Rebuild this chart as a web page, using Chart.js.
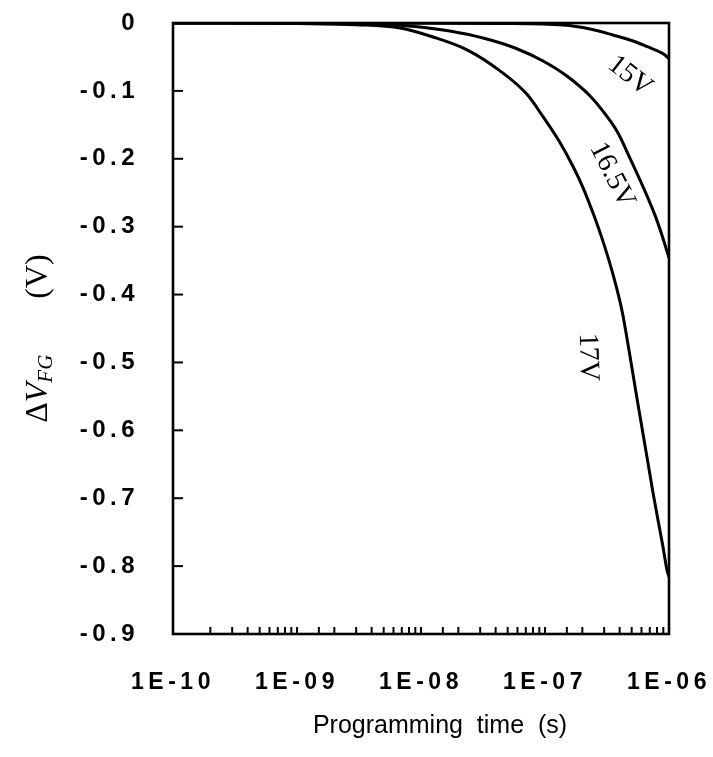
<!DOCTYPE html>
<html>
<head>
<meta charset="utf-8">
<script src="https://cdn.jsdelivr.net/npm/chart.js@4"></script>
<style>
html,body{margin:0;padding:0;background:#fff;}
#c{display:block;}
</style>
</head>
<body>
<canvas id="c" width="713" height="757"></canvas>
<script>
// ---- data ----
const xTickValues = [1e-10, 1e-9, 1e-8, 1e-7, 1e-6];
const xTickLabels = ['1E-10', '1E-09', '1E-08', '1E-07', '1E-06'];
const yTickValues = [0, -0.1, -0.2, -0.3, -0.4, -0.5, -0.6, -0.7, -0.8, -0.9];
const yTickLabels = ['0', '-0.1', '-0.2', '-0.3', '-0.4', '-0.5', '-0.6', '-0.7', '-0.8', '-0.9'];

const seriesNames = ['15V', '16.5V', '17V'];

const time15 = [1e-10, 1e-8, 4.34e-8, 1.40e-7, 2.31e-7, 3.53e-7, 5.13e-7, 6.77e-7, 8.45e-7, 9.29e-7, 1e-6];
const dv15   = [0, -0.0002, -0.0007, -0.003, -0.0088, -0.0177, -0.0265, -0.0353, -0.0427, -0.0471, -0.053];

const time165 = [1e-10, 1e-9, 3e-9, 4.67e-9, 9.82e-9, 1.71e-8, 3.16e-8, 5.73e-8, 9.64e-8, 1.50e-7, 2.31e-7, 3.05e-7, 3.88e-7, 4.84e-7, 5.83e-7, 6.77e-7, 7.71e-7, 8.61e-7, 9.29e-7, 1e-6];
const dv165   = [0, -0.0003, -0.0009, -0.0015, -0.0059, -0.0118, -0.0221, -0.0368, -0.056, -0.0781, -0.1075, -0.134, -0.162, -0.199, -0.231, -0.258, -0.283, -0.308, -0.327, -0.346];

const time17 = [1e-10, 1e-9, 3e-9, 6.78e-9, 1.25e-8, 2.35e-8, 4.34e-8, 7.16e-8, 9.64e-8, 1.32e-7, 1.68e-7, 2.02e-7, 2.44e-7, 2.94e-7, 3.53e-7, 4.18e-7, 4.84e-7, 5.52e-7, 6.17e-7, 6.77e-7, 7.43e-7, 8.15e-7, 8.95e-7, 9.64e-7, 1e-6];
const dv17   = [0, -0.0008, -0.0025, -0.0074, -0.0206, -0.0395, -0.0705, -0.105, -0.138, -0.176, -0.211, -0.242, -0.28, -0.322, -0.37, -0.424, -0.49, -0.553, -0.605, -0.648, -0.692, -0.732, -0.772, -0.806, -0.816];

// label anchors in data space (time, dV) and their rotation
const labelTimes = [4.84e-7, 3.47e-7, 2.22e-7];
const labelValues = [-0.078, -0.224, -0.492];
const labelAngles = [38, 63, 88];

// ---- chart ----
function pts(ts, vs) { return ts.map((t, i) => ({ x: t, y: vs[i] })); }

const sansFont = "'Liberation Sans', Arial, Helvetica, sans-serif";
const serifFont = "'Liberation Serif', 'Times New Roman', serif";

function noPad(s) { s.paddingTop = 0; s.paddingBottom = 0; s.paddingLeft = 0; s.paddingRight = 0; }

const decor = {
  id: 'decor',
  beforeDraw(chart) {
    chart.ctx.letterSpacing = '4.5px';
  },
  afterDraw(chart) {
    const { ctx, chartArea: a, scales: { x, y } } = chart;
    ctx.save();
    ctx.letterSpacing = '0px';
    ctx.strokeStyle = '#000';
    ctx.fillStyle = '#000';
    // frame
    ctx.lineWidth = 2.6;
    ctx.strokeRect(a.left, a.top, a.right - a.left, a.bottom - a.top);
    // x ticks (log minor), pointing inward
    ctx.lineWidth = 2;
    x.ticks.forEach(t => {
      const px = x.getPixelForValue(t.value);
      if (px <= a.left + 1 || px >= a.right - 1) return;
      ctx.beginPath();
      ctx.moveTo(px, a.bottom);
      ctx.lineTo(px, a.bottom - 7);
      ctx.stroke();
    });
    // y ticks pointing inward
    y.ticks.forEach(t => {
      const py = y.getPixelForValue(t.value);
      if (py <= a.top + 1 || py >= a.bottom - 1) return;
      ctx.beginPath();
      ctx.moveTo(a.left, py);
      ctx.lineTo(a.left + 10, py);
      ctx.stroke();
    });
    // curve labels
    ctx.font = '28px ' + serifFont;
    ctx.textAlign = 'center';
    ctx.textBaseline = 'middle';
    seriesNames.forEach((n, i) => {
      const px = x.getPixelForValue(labelTimes[i]);
      const py = y.getPixelForValue(labelValues[i]);
      ctx.save();
      ctx.translate(px, py);
      ctx.rotate(labelAngles[i] * Math.PI / 180);
      ctx.fillText(n, 0, 0);
      ctx.restore();
    });
    // x title
    ctx.font = '25px ' + sansFont;
    ctx.textAlign = 'center';
    ctx.textBaseline = 'middle';
    ctx.fillText('Programming  time  (s)', (a.left + a.right) / 2 + 19, 726);
    // y title: ΔV_FG  (V)
    ctx.save();
    ctx.translate(39, (a.top + a.bottom) / 2 + 10);
    ctx.rotate(-Math.PI / 2);
    ctx.textAlign = 'left';
    ctx.textBaseline = 'middle';
    const big = '32px ' + serifFont, bigI = 'italic 32px ' + serifFont, sub = 'italic 21px ' + serifFont;
    const parts = [
      { s: '\u0394', f: big, dy: 0 },
      { s: 'V', f: bigI, dy: 0 },
      { s: 'FG', f: sub, dy: 7 },
      { s: '       ', f: big, dy: 0 },
      { s: '(V)', f: big, dy: 0 }
    ];
    let total = 0;
    parts.forEach(p => { ctx.font = p.f; p.w = ctx.measureText(p.s).width; total += p.w; });
    let cx = -total / 2;
    parts.forEach(p => { ctx.font = p.f; ctx.fillText(p.s, cx, p.dy); cx += p.w; });
    ctx.restore();
    ctx.restore();
  }
};

const lineStyle = { borderColor: '#000', borderWidth: 3, pointRadius: 0, fill: false, cubicInterpolationMode: 'monotone' };

new Chart(document.getElementById('c'), {
  type: 'line',
  data: {
    datasets: [
      Object.assign({ label: seriesNames[0], data: pts(time15, dv15) }, lineStyle),
      Object.assign({ label: seriesNames[1], data: pts(time165, dv165) }, lineStyle),
      Object.assign({ label: seriesNames[2], data: pts(time17, dv17) }, lineStyle)
    ]
  },
  options: {
    responsive: false,
    devicePixelRatio: 1,
    animation: false,
    layout: { padding: { top: 23, right: 44, left: 0, bottom: 0 } },
    plugins: { legend: { display: false }, tooltip: { enabled: false }, title: { display: false } },
    scales: {
      x: {
        type: 'logarithmic',
        min: 1e-10,
        max: 1e-6,
        position: 'bottom',
        grid: { display: false },
        border: { display: false },
        ticks: {
          autoSkip: false,
          maxRotation: 0,
          padding: 27,
          color: '#000',
          font: { family: sansFont, size: 23, weight: 'bold' },
          callback: function (v) {
            const i = xTickValues.findIndex(d => Math.abs(Math.log10(v) - Math.log10(d)) < 1e-6);
            return i >= 0 ? xTickLabels[i] : '';
          }
        },
        afterFit: function (s) { s.height = 757 - 634; noPad(s); }
      },
      y: {
        type: 'linear',
        min: -0.9,
        max: 0,
        grid: { display: false },
        border: { display: false },
        ticks: {
          stepSize: 0.1,
          padding: 26,
          color: '#000',
          font: { family: sansFont, size: 24, weight: 'bold' },
          callback: function (v) {
            const i = yTickValues.findIndex(d => Math.abs(d - v) < 1e-6);
            return i >= 0 ? yTickLabels[i] : '';
          }
        },
        afterFit: function (s) { s.width = 173; noPad(s); }
      }
    }
  },
  plugins: [decor]
});
</script>
</body>
</html>
